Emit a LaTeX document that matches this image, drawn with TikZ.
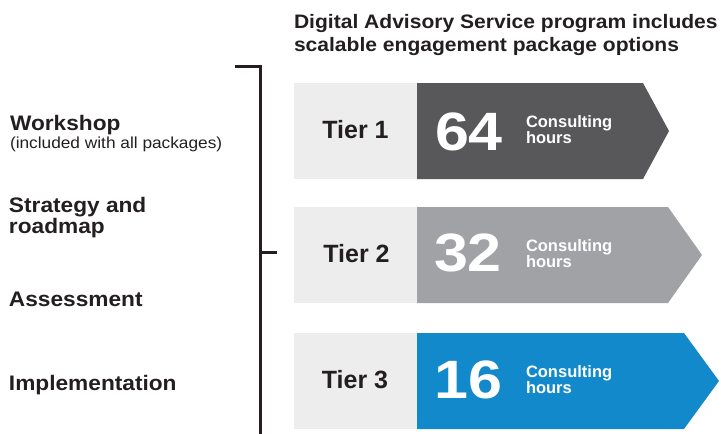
\documentclass[tikz,border=0pt]{standalone}
\usepackage{fontspec}
\setmainfont{Liberation Sans}
\newfontfamily\widefont[FakeStretch=1.08]{Liberation Sans}
\newfontfamily\numfont[FakeStretch=1.13]{Liberation Sans}
\definecolor{ink}{HTML}{231F20}
\definecolor{lightbox}{HTML}{EDEDED}
\definecolor{tierone}{HTML}{58585B}
\definecolor{tiertwo}{HTML}{A1A2A5}
\definecolor{tierthree}{HTML}{1289CB}
\begin{document}
\begin{tikzpicture}[x=1pt,y=-1pt,inner sep=0pt,outer sep=0pt]
\tikzset{
  lbl/.style={anchor=base west,font=\widefont\bfseries\fontsize{21}{21}\selectfont,text=ink},
  sublbl/.style={anchor=base west,font=\widefont\fontsize{16}{16}\selectfont,text=ink},
  ttl/.style={anchor=base west,font=\widefont\bfseries\fontsize{19.5}{19.5}\selectfont,text=ink},
  tiername/.style={font=\bfseries\fontsize{25}{25}\selectfont,text=ink},
  num/.style={font=\numfont\bfseries\fontsize{54}{54}\selectfont,text=white},
  hrs/.style={anchor=west,align=left,font=\bfseries\fontsize{16.5}{16}\selectfont,text=white},
  bracket/.style={draw=ink,line width=3pt},
}
\useasboundingbox (0,0) rectangle (721,434);
% title
\node[ttl] (title1) at (294,28) {Digital Advisory Service program includes};
\node[ttl] (title2) at (294,51.5) {scalable engagement package options};
% left labels
\node[lbl] (workshop) at (10,130) {Workshop};
\node[sublbl] (included) at (10,148) {(included with all packages)};
\node[lbl] (strategy) at (9,212) {Strategy and};
\node[lbl] (roadmap) at (9,233) {roadmap};
\node[lbl] (assess) at (9,306) {Assessment};
\node[lbl] (impl) at (9,390) {Implementation};
% bracket
\coordinate (bstart) at (235,66);
\coordinate (bcorner) at (260,66);
\coordinate (bend) at (260,434);
\coordinate (tickA) at (260,252);
\coordinate (tickB) at (277,252);
\draw[bracket] (bstart) -- (bcorner) -- (bend);
\draw[bracket] (tickA) -- (tickB);
% tier 1
\fill[lightbox] (294,83) rectangle (417,179);
\fill[tierone] (417,83) -- (643,83) -- (669,131) -- (643,179) -- (417,179) -- cycle;
\node[tiername] (tier1) at (355.5,130) {Tier 1};
\node[num] (num1) at (469,131.5) {64};
\node[hrs] (hrs1) at (526,130) {Consulting\\hours};
% tier 2
\fill[lightbox] (294,207) rectangle (417,303);
\fill[tiertwo] (417,207) -- (668,207) -- (702,255) -- (668,303) -- (417,303) -- cycle;
\node[tiername] (tier2) at (356.5,254) {Tier 2};
\node[num] (num2) at (468,253) {32};
\node[hrs] (hrs2) at (526,254) {Consulting\\hours};
% tier 3
\fill[lightbox] (294,333) rectangle (417,429);
\fill[tierthree] (417,333) -- (684,333) -- (719,381) -- (684,429) -- (417,429) -- cycle;
\node[tiername] (tier3) at (355,380) {Tier 3};
\node[num] (num3) at (468.5,380) {16};
\node[hrs] (hrs3) at (526,380) {Consulting\\hours};
\end{tikzpicture}
\end{document}
